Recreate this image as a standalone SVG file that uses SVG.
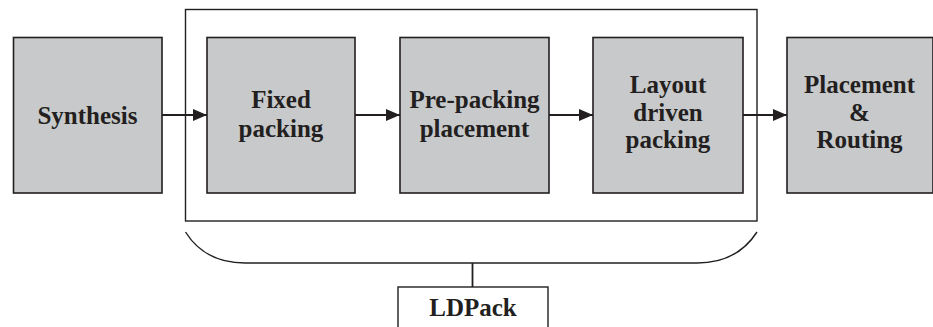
<svg xmlns="http://www.w3.org/2000/svg" width="933" height="327" viewBox="0 0 933 327">
<style>
.box{fill:#c8c9cb;stroke:#231f20;stroke-width:1.6}
.frame{fill:none;stroke:#231f20;stroke-width:1.4}
.lbl{font-family:'Liberation Serif',serif;font-weight:bold;font-size:25px;fill:#231f20;text-anchor:middle}
.conn{fill:none;stroke:#231f20;stroke-width:1.8}
</style>
<defs>
<marker id="arr" viewBox="0 0 14 12" refX="14" refY="6" markerWidth="14" markerHeight="12" markerUnits="userSpaceOnUse" orient="auto">
<path d="M0,0 L14,6 L0,12 Z" fill="#231f20"/>
</marker>
</defs>
<rect width="933" height="327" fill="#ffffff"/>
<g id="ldpack-frame">
<rect class="frame" x="185.5" y="9.5" width="571.5" height="211.5"/>
</g>
<g id="synthesis">
<rect class="box" x="13.5" y="37.5" width="148.5" height="155.5"/>
<text class="lbl" font-family="Liberation Serif, serif" x="87.5" y="124">Synthesis</text>
</g>
<g id="fixed-packing">
<rect class="box" x="207" y="37.5" width="148" height="155.5"/>
<text class="lbl" font-family="Liberation Serif, serif" x="281" y="108">Fixed</text>
<text class="lbl" font-family="Liberation Serif, serif" x="281" y="137">packing</text>
</g>
<g id="pre-packing">
<rect class="box" x="400" y="37.5" width="149" height="155.5"/>
<text class="lbl" font-family="Liberation Serif, serif" x="474.5" y="108">Pre-packing</text>
<text class="lbl" font-family="Liberation Serif, serif" x="474.5" y="137">placement</text>
</g>
<g id="layout-driven">
<rect class="box" x="593" y="37.5" width="150" height="155.5"/>
<text class="lbl" font-family="Liberation Serif, serif" x="668" y="93">Layout</text>
<text class="lbl" font-family="Liberation Serif, serif" x="668" y="121">driven</text>
<text class="lbl" font-family="Liberation Serif, serif" x="668" y="148">packing</text>
</g>
<g id="placement-routing">
<rect class="box" x="787" y="37.5" width="146" height="155.5"/>
<text class="lbl" font-family="Liberation Serif, serif" x="859.5" y="93">Placement</text>
<text class="lbl" font-family="Liberation Serif, serif" x="859.5" y="121">&amp;</text>
<text class="lbl" font-family="Liberation Serif, serif" x="859.5" y="148">Routing</text>
</g>
<g id="ldpack">
<rect class="frame" x="398" y="287" width="150" height="50"/>
<text class="lbl" font-family="Liberation Serif, serif" x="473" y="316">LDPack</text>
</g>
<g id="connectors">
<line class="conn" x1="162" y1="115" x2="207" y2="115" marker-end="url(#arr)"/>
<line class="conn" x1="355" y1="115" x2="400" y2="115" marker-end="url(#arr)"/>
<line class="conn" x1="549" y1="115" x2="593" y2="115" marker-end="url(#arr)"/>
<line class="conn" x1="743" y1="115" x2="787" y2="115" marker-end="url(#arr)"/>
<path class="frame" d="M185.5,232 Q205,263 245,263 L697,263 Q737,263 757,232"/>
<line class="conn" x1="472.5" y1="263" x2="472.5" y2="287"/>
</g>
</svg>
